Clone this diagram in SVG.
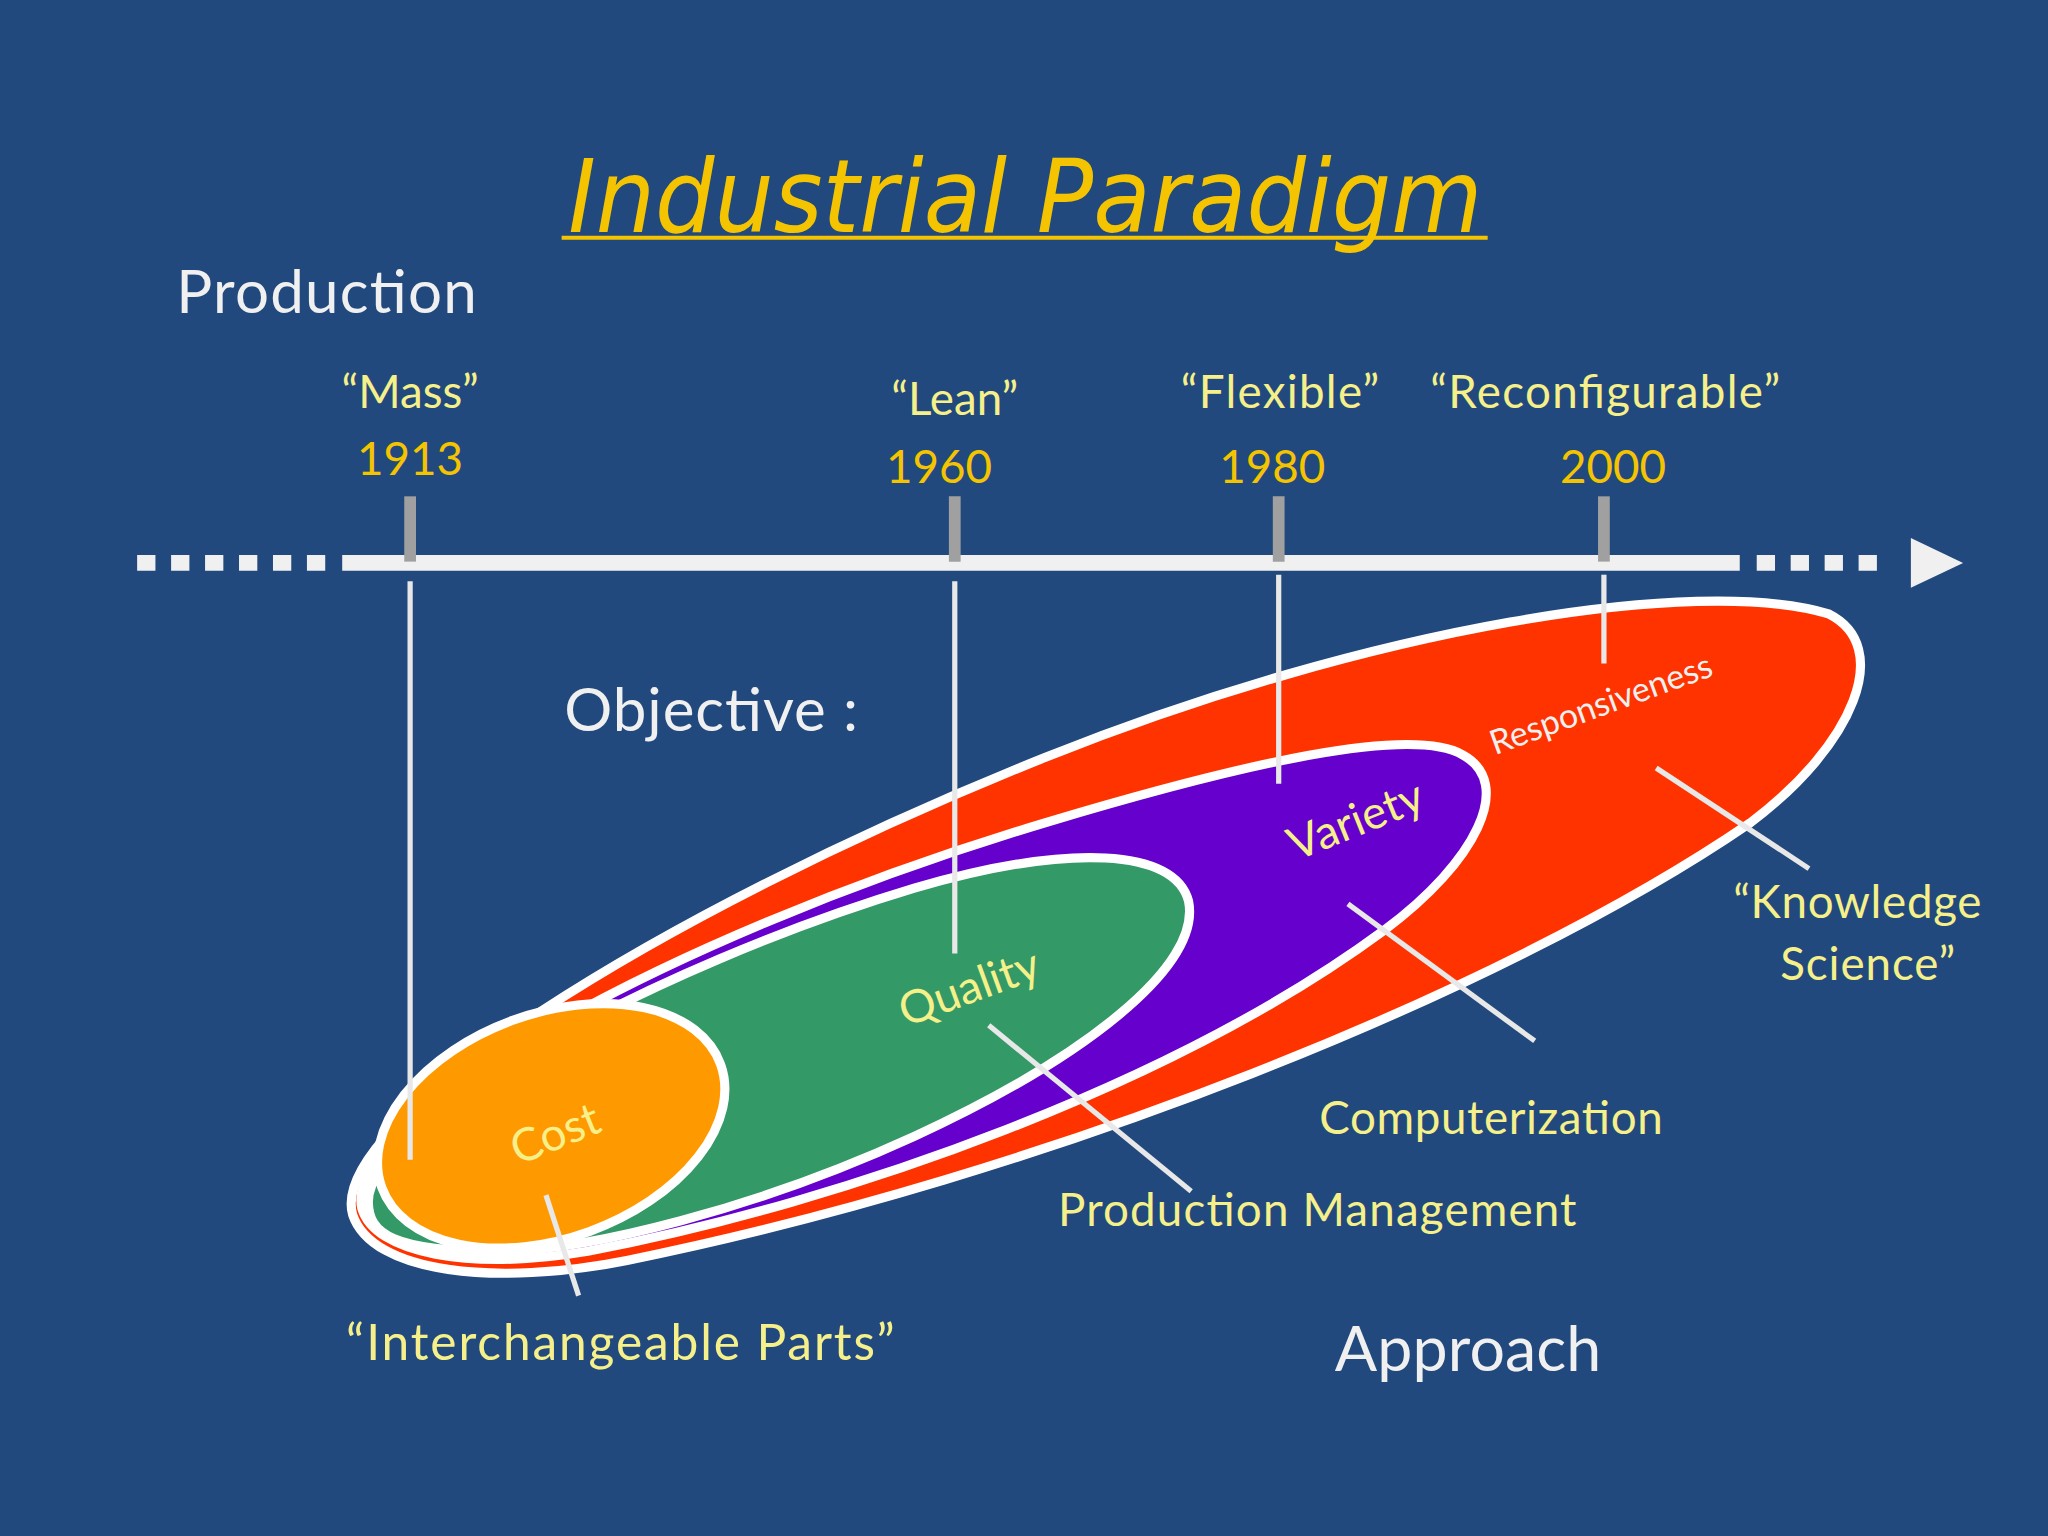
<svg xmlns="http://www.w3.org/2000/svg" width="2048" height="1536" viewBox="0 0 2048 1536">
<style>
.w{fill:#f0f0f0;font-family:Lato,"Open Sans",sans-serif}
.y{fill:#f5f08a;font-family:Lato,"Open Sans",sans-serif}
.o{fill:#f5c400;font-family:Lato,"Open Sans",sans-serif}
.e{stroke:#fff;stroke-width:7}
.l{stroke:#e8e8e8;stroke-width:4;fill:none}
.t{stroke:#a0a0a0;stroke-width:9}
</style>
<rect width="2048" height="1536" fill="#22497d"/>
<g transform="scale(1.30612)">
<g id="title"><text x="785" y="178" text-anchor="middle" font-family="'DejaVu Sans',sans-serif" font-style="italic" font-size="78" fill="#f5c400" textLength="700" lengthAdjust="spacingAndGlyphs">Industrial Paradigm</text>
<line x1="430" y1="182" x2="1139" y2="182" stroke="#f5c400" stroke-width="3"/></g>
<text id="production" class="w" x="135" y="240" font-size="46" textLength="230">Production</text>
<g id="timeline">
<line x1="105" y1="431" x2="250" y2="431" stroke="#f0f0f0" stroke-width="12" stroke-dasharray="14,12"/>
<line x1="262" y1="431" x2="1332" y2="431" stroke="#f0f0f0" stroke-width="12"/>
<line x1="1345" y1="431" x2="1445" y2="431" stroke="#f0f0f0" stroke-width="12" stroke-dasharray="14,12"/>
<polygon points="1463,412 1503,431 1463,450" fill="#f0f0f0"/>
<line class="t" x1="314" y1="380" x2="314" y2="430"/>
<line class="t" x1="731" y1="380" x2="731" y2="430"/>
<line class="t" x1="979" y1="380" x2="979" y2="430"/>
<line class="t" x1="1228" y1="380" x2="1228" y2="430"/>
</g>
<g id="labels" font-size="35">
<text class="y" x="314" y="312" text-anchor="middle">“Mass”</text>
<text class="o" x="314" y="364" text-anchor="middle">1913</text>
<text class="y" x="731" y="318" text-anchor="middle">“Lean”</text>
<text class="o" x="719" y="370" text-anchor="middle">1960</text>
<text class="y" x="980" y="312" text-anchor="middle" textLength="152">“Flexible”</text>
<text class="y" x="1229" y="312" text-anchor="middle" textLength="268">“Reconfigurable”</text>
<text class="o" x="974" y="370" text-anchor="middle">1980</text>
<text class="o" x="1235" y="370" text-anchor="middle">2000</text>
</g>
<text id="objective" class="w" x="432" y="560" font-size="46" textLength="225">Objective :</text>
<g id="ellipses">
<path class="e" fill="#ff3300" d="M 270,930 C 250,860 500,700 800,580 C 1050,480 1300,440 1400,470 C 1450,495 1420,570 1340,630 C 1150,760 800,900 480,965 C 380,985 285,975 270,930 Z"/>
<path class="e" fill="#6600cc" d="M 277,925 C 262,860 500,720 800,630 C 950,585 1080,555 1120,578 C 1160,600 1130,660 1060,712 C 900,830 650,920 450,958 C 360,973 287,960 277,925 Z"/>
<path class="e" fill="#339966" d="M 282,920 C 282,860 500,740 700,680 C 820,645 900,650 910,690 C 920,740 830,810 700,870 C 580,925 450,958 380,958 C 302,958 282,945 282,920 Z"/>
<ellipse class="e" fill="#ff9900" cx="422" cy="862" rx="138" ry="86" transform="rotate(-20 422 862)"/>
</g>
<g id="connectors">
<line class="l" x1="314" y1="445" x2="314" y2="888"/>
<line class="l" x1="731" y1="445" x2="731" y2="730"/>
<line class="l" x1="979" y1="440" x2="979" y2="600"/>
<line class="l" x1="1228" y1="440" x2="1228" y2="508"/>
<line class="l" x1="1268" y1="588" x2="1385" y2="665"/>
<line class="l" x1="1032" y1="692" x2="1175" y2="797"/>
<line class="l" x1="757" y1="785" x2="912" y2="912"/>
<line class="l" x1="418" y1="915" x2="443" y2="992"/>
</g>
<g id="inner" font-size="35">
<text class="y" x="425" y="880" text-anchor="middle" transform="rotate(-22 425 868)">Cost</text>
<text class="y" x="742" y="768" text-anchor="middle" transform="rotate(-20 742 756)">Quality</text>
<text class="y" x="1038" y="640" text-anchor="middle" transform="rotate(-22 1038 628)">Variety</text>
<text class="w" x="1226" y="548" font-size="26" text-anchor="middle" transform="rotate(-20 1226 540)">Responsiveness</text>
</g>
<g id="approaches" font-size="35">
<text class="y" x="1422" y="703" text-anchor="middle" textLength="190">“Knowledge</text>
<text class="y" x="1430" y="750" text-anchor="middle" textLength="134">Science”</text>
<text class="y" x="1010" y="868" textLength="263">Computerization</text>
<text class="y" x="810" y="939" textLength="397">Production Management</text>
<text class="y" x="265" y="1041" font-size="38" textLength="420">“Interchangeable Parts”</text>
<text class="w" x="1022" y="1050" font-size="48" textLength="204">Approach</text>
</g>
</g>
</svg>
